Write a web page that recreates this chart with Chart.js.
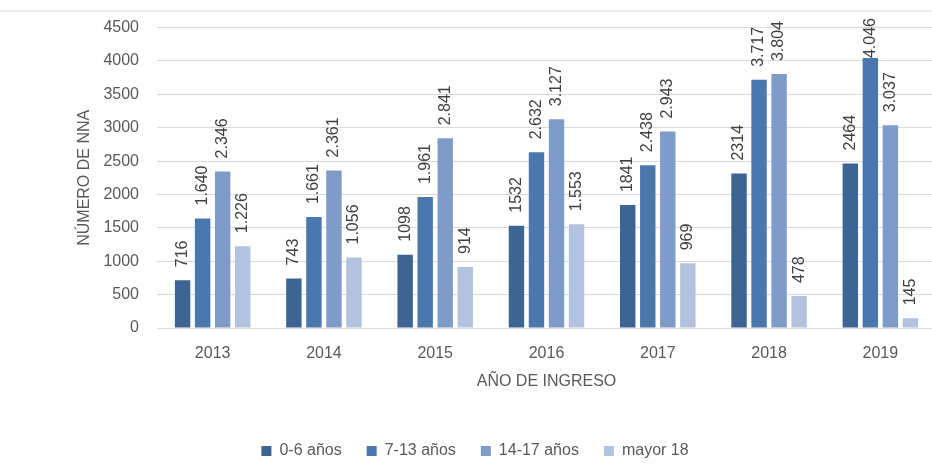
<!DOCTYPE html>
<html lang="es">
<head>
<meta charset="UTF-8">
<title>NNA por año de ingreso</title>
<script src="https://cdn.jsdelivr.net/npm/chart.js"></script>
<style>
  html, body { margin: 0; padding: 0; background: #fff; overflow: hidden; }
  #wrap { position: relative; width: 932px; height: 475px; overflow: hidden; }
  #wrap:before { content: ''; position: absolute; left: 0; right: 0; top: 10px; border-top: 2px solid #ececec; }
  canvas { display: block; }
</style>
</head>
<body>
<div id="wrap"><canvas id="chart" width="940" height="475"></canvas></div>
<script>
// datos
const years = ['2013', '2014', '2015', '2016', '2017', '2018', '2019'];
const ages0to6 = [716, 743, 1098, 1532, 1841, 2314, 2464];
const ages7to13 = [1640, 1661, 1961, 2632, 2438, 3717, 4046];
const ages14to17 = [2346, 2361, 2841, 3127, 2943, 3804, 3037];
const over18 = [1226, 1056, 914, 1553, 969, 478, 145];

// etiquetas tal como aparecen (con y sin punto de miles)
const labels0to6 = ['716', '743', '1098', '1532', '1841', '2314', '2464'];
const labels7to13 = ['1.640', '1.661', '1.961', '2.632', '2.438', '3.717', '4.046'];
const labels14to17 = ['2.346', '2.361', '2.841', '3.127', '2.943', '3.804', '3.037'];
const labelsOver18 = ['1.226', '1.056', '914', '1.553', '969', '478', '145'];
const valueLabels = [labels0to6, labels7to13, labels14to17, labelsOver18];

const yMax = 4500;
const yStep = 500;

const FONT = '"Liberation Sans", Arial, sans-serif';
const grey = '#595959';

const barLabels = {
    id: 'barLabels',
    afterDatasetsDraw(chart) {
        const ctx = chart.ctx;
        ctx.save();
        ctx.font = '16px ' + FONT;
        ctx.fillStyle = '#404040';
        ctx.textBaseline = 'middle';
        ctx.textAlign = 'left';
        chart.data.datasets.forEach((ds, i) => {
            chart.getDatasetMeta(i).data.forEach((bar, j) => {
                const txt = valueLabels[i][j];
                const w = ctx.measureText(txt).width;
                const start = Math.max(bar.y - 13, 18 + w);
                ctx.save();
                ctx.translate(bar.x, start);
                ctx.rotate(-Math.PI / 2);
                ctx.fillText(txt, 0, 0);
                ctx.restore();
            });
        });
        ctx.restore();
    }
};

const ctx = document.getElementById('chart').getContext('2d');
new Chart(ctx, {
    type: 'bar',
    data: {
        labels: years,
        datasets: [
            { label: '0-6 años', data: ages0to6, backgroundColor: '#3e6494' },
            { label: '7-13 años', data: ages7to13, backgroundColor: '#4a78ae' },
            { label: '14-17 años', data: ages14to17, backgroundColor: '#7f9bc8' },
            { label: 'mayor 18', data: over18, backgroundColor: '#b3c2de' }
        ]
    },
    options: {
        responsive: false,
        animation: false,
        categoryPercentage: 0.72,
        barPercentage: 0.77,
        layout: { padding: { left: 14, right: 4, top: 26, bottom: 6 } },
        plugins: {
            legend: {
                position: 'bottom',
                labels: { boxWidth: 10, boxHeight: 10, padding: 25, color: grey, font: { family: FONT, size: 16 } }
            },
            tooltip: { enabled: false }
        },
        scales: {
            x: {
                grid: { display: false },
                border: { color: '#d9d9d9' },
                ticks: { color: grey, padding: 8, font: { family: FONT, size: 16 } },
                title: { display: true, text: 'AÑO DE INGRESO', color: grey, font: { family: FONT, size: 16 }, padding: { bottom: 27 } },
                afterFit: s => { s.height = 90; }
            },
            y: {
                min: 0,
                max: yMax,
                grid: { color: '#d9d9d9', drawTicks: false },
                border: { display: false },
                ticks: { stepSize: yStep, color: grey, padding: 18, font: { family: FONT, size: 16 }, callback: v => String(v) },
                title: { display: true, text: 'NÚMERO DE NNA', color: grey, font: { family: FONT, size: 16 }, padding: { top: 61 } },
                afterFit: s => { s.width = 143; }
            }
        }
    },
    plugins: [barLabels]
});
</script>
</body>
</html>
